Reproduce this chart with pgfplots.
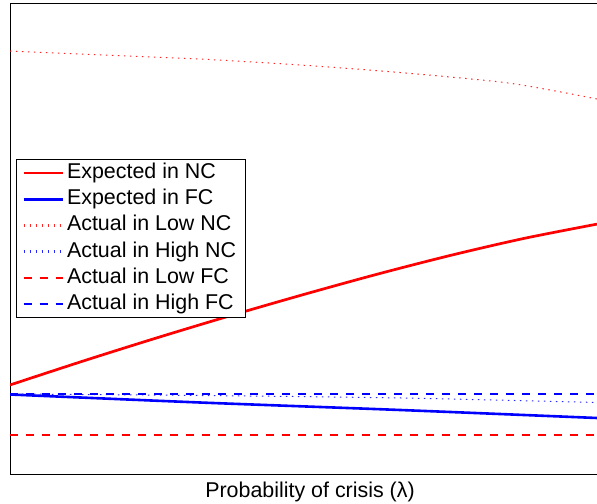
\documentclass[border=0pt]{standalone}
\usepackage{fontspec}
\setmainfont{Liberation Sans}
\usepackage{pgfplots}
\pgfplotsset{compat=1.18}

\definecolor{nc}{rgb}{1,0,0}
\definecolor{fc}{rgb}{0,0,1}

\begin{document}
\begin{tikzpicture}[x=1bp,y=1bp]
\begin{axis}[
  scale only axis,
  width=600bp, height=471bp,
  xmin=0, xmax=1.0222,
  ymin=0, ymax=1,
  xtick=\empty, ytick=\empty,
  axis line style={line width=0.9bp},
  xlabel={Probability of crisis (λ)},
  xlabel style={at={(axis description cs:0.5,0)}, anchor=north, yshift=-4bp,
                font=\fontsize{21.5}{25}\selectfont},
  legend image code/.code={\draw[line width=2.6bp,#1] (0bp,0bp) -- (39bp,0bp);},
  legend cell align=left,
  legend style={at={(0.01,0.6688)}, anchor=north west,
                draw=black, line width=0.9bp,
                font=\fontsize{21.5}{25}\selectfont,
                inner xsep=6bp, inner ysep=0.5bp,
                nodes={text height=16bp, text depth=5bp, inner ysep=2.6bp, inner xsep=3bp},
                row sep=0bp},
]
% Expected in NC
\addplot[nc, line width=2.7bp, smooth] coordinates {
  (0,0.189) (0.125,0.240) (0.25,0.289) (0.375,0.336) (0.5,0.381)
  (0.625,0.424) (0.75,0.464) (0.875,0.500) (1.0,0.5305)};
\addlegendentry{Expected in NC}
% Expected in FC
\addplot[fc, line width=2.6bp, smooth] coordinates {
  (0,0.1688) (0.3237,0.1518) (0.6644,0.1359) (1.0,0.1189)};
\addlegendentry{Expected in FC}
% Actual in Low NC
\addplot[nc!85, line width=1bp, dash pattern=on 1.5bp off 4.5bp, smooth] coordinates {
  (0,0.8981) (0.2385,0.8854) (0.3237,0.8811) (0.4940,0.8684)
  (0.6644,0.8524) (0.8348,0.8323) (0.9199,0.8153) (1.0,0.7962)};
\addlegendentry{Actual in Low NC}
% Actual in High NC
\addplot[fc!85, line width=1bp, dash pattern=on 1.5bp off 4.5bp, smooth] coordinates {
  (0,0.1699) (0.3237,0.1667) (0.6644,0.1614) (1.0,0.1518)};
\addlegendentry{Actual in High NC}
% Actual in Low FC
\addplot[nc, line width=2.6bp, dash pattern=on 8bp off 8bp] coordinates {
  (0,0.0828) (0.5,0.0828) (1.0,0.0828)};
\addlegendentry{Actual in Low FC}
% Actual in High FC
\addplot[fc, line width=2.6bp, dash pattern=on 8bp off 8bp] coordinates {
  (0,0.1699) (0.5,0.1699) (1.0,0.1699)};
\addlegendentry{Actual in High FC}
\end{axis}
\pgfresetboundingbox
\path (-10bp,-30bp) rectangle (587bp,474bp);
\end{tikzpicture}
\end{document}
